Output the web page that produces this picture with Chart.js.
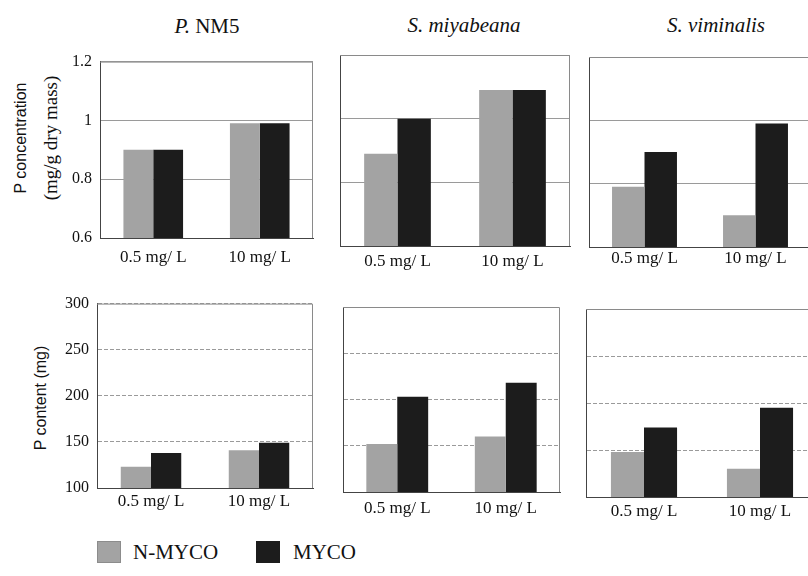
<!DOCTYPE html>
<html>
<head>
<meta charset="utf-8">
<title>P concentration / P content</title>
<script src="https://cdn.jsdelivr.net/npm/chart.js@4.4.1/dist/chart.umd.min.js"></script>
<style>
  html, body { margin: 0; width: 808px; height: 576px; overflow: hidden; background: #fff; }
  canvas, .txt { position: absolute; }
  .titre { font: 21px "Liberation Serif", serif; color: #111; width: 220px; text-align: center; white-space: nowrap; }
  .titre i { font-style: italic; }
  .axe { width: 260px; text-align: center; white-space: nowrap; color: #111; transform: translate(-50%, -50%) rotate(-90deg); }
  .sans { font: 16px "Liberation Sans", Arial, sans-serif; }
  .serif { font: 19px "Liberation Serif", serif; }
  .leg-box { position: absolute; width: 24px; height: 22px; }
  .leg-txt { font: 21px "Liberation Serif", serif; color: #111; }
</style>
</head>
<body>

<div class="txt titre" style="left:97px; top:14px;"><i>P.</i> NM5</div>
<div class="txt titre" style="left:354px; top:13px;"><i>S. miyabeana</i></div>
<div class="txt titre" style="left:606px; top:13px;"><i>S. viminalis</i></div>

<div class="txt axe sans"  style="left:21px; top:138px;">P concentration</div>
<div class="txt axe serif" style="left:51px; top:138px;">(mg/g dry mass)</div>
<div class="txt axe sans"  style="left:41px; top:398px;">P content (mg)</div>

<div class="leg-box" style="left:97px; top:541px; background:#a3a3a3; box-shadow: inset 0 0 0 1px #8c8c8c;"></div>
<div class="txt leg-txt" style="left:133px; top:540px;">N-MYCO</div>
<div class="leg-box" style="left:256px; top:541px; background:#1c1c1c;"></div>
<div class="txt leg-txt" style="left:293px; top:540px;">MYCO</div>

<script>
/* =========================================================
   Données
   ========================================================= */
const categories  = ['0.5 mg/ L', '10 mg/ L'];
const seriesNames = ['N-MYCO', 'MYCO'];

/* P concentration (mg/g dry mass) */
const concNM5Nmyco = [0.90, 0.99];
const concNM5Myco  = [0.90, 0.99];
const concMiyNmyco = [0.89, 1.09];
const concMiyMyco  = [1.00, 1.09];
const concVimNmyco = [0.79, 0.70];
const concVimMyco  = [0.90, 0.99];

/* P content (mg) */
const contNM5Nmyco = [123, 141];
const contNM5Myco  = [138, 149];
const contMiyNmyco = [152, 160];
const contMiyMyco  = [203, 218];
const contVimNmyco = [148, 130];
const contVimMyco  = [174, 195];

/* graduations */
const concTicks = ['0.6', '0.8', '1', '1.2'];
const contTicks = ['100', '150', '200', '250', '300'];

/* =========================================================
   Mise en page des six panneaux
   ========================================================= */
const Y_AXIS_W = 45;
const X_AXIS_H = 35;
const PAD_T    = 10;
const PAD_R    = 5;

const COL_GRIS = '#a3a3a3';
const COL_NOIR = '#1c1c1c';

const echelleConc = { min: 0.6, max: 1.2, step: 0.2, labels: concTicks, dash: [] };
const echelleCont = { min: 100, max: 300, step: 50,  labels: contTicks, dash: [4, 2] };

const panneaux = [
  { x: 100, y: 54,  w: 213, h: 184, nm: concNM5Nmyco, my: concNM5Myco, sc: echelleConc, ticks: true,  cat: 0.56, pad: 9 },
  { x: 340, y: 55,  w: 230, h: 191, nm: concMiyNmyco, my: concMiyMyco, sc: echelleConc, ticks: false, cat: 0.58, pad: 5 },
  { x: 589, y: 57,  w: 222, h: 190, nm: concVimNmyco, my: concVimMyco, sc: echelleConc, ticks: false, cat: 0.585, pad: 1 },
  { x: 97,  y: 296, w: 216, h: 192, nm: contNM5Nmyco, my: contNM5Myco, sc: echelleCont, ticks: true,  cat: 0.56, pad: 3 },
  { x: 343, y: 307, w: 217, h: 185, nm: contMiyNmyco, my: contMiyMyco, sc: echelleCont, ticks: false, cat: 0.57, pad: 6 },
  { x: 586, y: 309, w: 232, h: 188, nm: contVimNmyco, my: contVimMyco, sc: echelleCont, ticks: false, cat: 0.57, pad: 4 },
];

/* cadre clair en haut et à droite de la zone de tracé */
const cadrePlugin = {
  id: 'cadre',
  beforeDatasetsDraw(chart) {
    const { ctx, chartArea: a } = chart;
    ctx.save();
    ctx.strokeStyle = '#8a8a8a';
    ctx.lineWidth = 1;
    ctx.beginPath();
    ctx.moveTo(a.left, a.top + 0.5);
    ctx.lineTo(a.right - 0.5, a.top + 0.5);
    ctx.lineTo(a.right - 0.5, a.bottom);
    ctx.stroke();
    ctx.restore();
  },
};

function creerPanneau(p) {
  const canvas = document.createElement('canvas');
  canvas.width  = Y_AXIS_W + p.w + PAD_R;
  canvas.height = PAD_T + p.h + X_AXIS_H;
  canvas.style.left = (p.x - Y_AXIS_W) + 'px';
  canvas.style.top  = (p.y - PAD_T) + 'px';
  document.body.appendChild(canvas);

  const sc = p.sc;

  new Chart(canvas, {
    type: 'bar',
    data: {
      labels: categories,
      datasets: [
        { label: seriesNames[0], data: p.nm, backgroundColor: COL_GRIS },
        { label: seriesNames[1], data: p.my, backgroundColor: COL_NOIR },
      ],
    },
    options: {
      responsive: false,
      animation: false,
      layout: { padding: { top: PAD_T, right: PAD_R, left: 0, bottom: 0 } },
      datasets: { bar: { categoryPercentage: p.cat, barPercentage: 1 } },
      plugins: {
        legend:  { display: false },
        tooltip: { enabled: false },
      },
      scales: {
        x: {
          grid:   { display: false, drawTicks: false },
          border: { display: true, color: '#444', width: 1 },
          ticks:  {
            color: '#111',
            padding: p.pad,
            font: { family: '"Liberation Serif", serif', size: 17 },
          },
          afterFit: s => { s.height = X_AXIS_H; },
        },
        y: {
          min: sc.min,
          max: sc.max,
          grid:   { color: '#9a9a9a', drawTicks: false },
          border: { display: true, color: '#444', width: 1, dash: sc.dash },
          ticks:  {
            display: p.ticks,
            stepSize: sc.step,
            padding: 8,
            color: '#111',
            font: { family: '"Liberation Serif", serif', size: 16 },
            callback: (v, i) => sc.labels[i] ?? v,
          },
          afterFit: s => { s.width = Y_AXIS_W; },
        },
      },
    },
    plugins: [cadrePlugin],
  });
}

panneaux.forEach(creerPanneau);
</script>
</body>
</html>
